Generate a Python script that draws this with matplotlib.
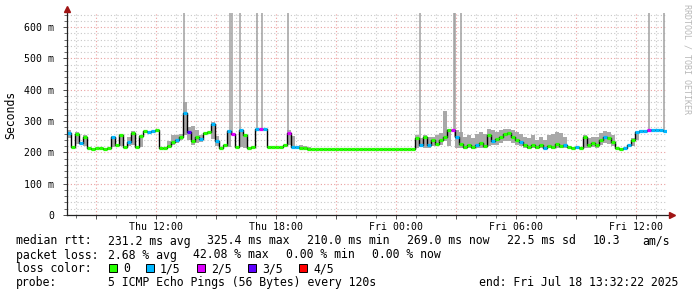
import matplotlib
matplotlib.use('Agg')
import matplotlib.pyplot as plt
from matplotlib.lines import Line2D
from matplotlib.patches import Rectangle
from matplotlib.ticker import MultipleLocator
import numpy as np

# time axis: hours since Thu 00:00, one sample every 12 min
t_start = 7.5394   # Thu 07:32:22
t_step = 0.2
t_span = 30.0

median_ms = [262, 218, 258, 230, 250, 214, 212, 215, 214, 212,
             213, 248, 222, 255, 216, 232, 262, 218, 252, 268,
             266, 267, 270, 214, 213, 220, 232, 240, 250, 325,
             265, 235, 250, 242, 262, 264, 292, 236, 215, 222,
             268, 260, 216, 273, 255, 215, 216, 274, 274, 274,
             218, 217, 216, 218, 225, 263, 218, 216, 214, 213,
             212, 211, 211, 211, 211, 211, 211, 211, 211, 211,
             211, 210, 210, 210, 210, 210, 210, 210, 210, 210,
             210, 210, 210, 210, 210, 210, 210, 245, 222, 250,
             225, 240, 228, 240, 250, 271, 273, 250, 228, 218,
             222, 216, 223, 230, 220, 255, 235, 242, 250, 258,
             262, 250, 240, 232, 222, 218, 225, 216, 222, 215,
             220, 218, 228, 220, 225, 216, 215, 217, 214, 250,
             222, 230, 225, 238, 250, 245, 232, 213, 212, 214,
             222, 240, 266, 268, 269, 270, 271, 272, 272, 269]

# lost pings out of 5
loss = [1, 0, 0, 1, 0, 0, 0, 0, 0, 0,
        0, 1, 0, 0, 0, 1, 0, 0, 0, 0,
        1, 1, 0, 0, 0, 0, 0, 1, 0, 1,
        3, 0, 0, 1, 0, 0, 1, 1, 0, 0,
        1, 2, 0, 1, 0, 0, 0, 1, 2, 1,
        0, 0, 0, 0, 0, 2, 1, 1, 0, 0,
        0, 0, 0, 0, 0, 0, 0, 0, 0, 0,
        0, 0, 0, 0, 0, 0, 0, 0, 0, 0,
        0, 0, 0, 0, 0, 0, 0, 0, 1, 0,
        1, 0, 0, 0, 0, 0, 2, 1, 0, 0,
        0, 0, 1, 0, 0, 0, 1, 0, 0, 0,
        0, 0, 0, 1, 0, 0, 0, 0, 0, 1,
        0, 0, 0, 0, 1, 0, 0, 1, 0, 0,
        0, 0, 0, 0, 1, 0, 0, 0, 0, 1,
        1, 0, 1, 1, 1, 2, 1, 1, 1, 1]

# smoke: spread of the individual pings above / below the median (ms)
smoke_up = [10, 0, 8, 0, 5, 0, 0, 0, 0, 0,
            0, 5, 0, 5, 0, 18, 5, 0, 5, 0,
            0, 0, 0, 0, 0, 15, 25, 15, 10, 37,
            15, 50, 20, 15, 0, 0, 5, 15, 0, 0,
            5, 0, 0, 3, 5, 0, 0, 0, 0, 0,
            0, 0, 0, 0, 0, 8, 35, 0, 8, 7,
            5, 0, 0, 0, 0, 0, 0, 0, 0, 0,
            0, 0, 0, 0, 0, 0, 0, 0, 0, 0,
            0, 0, 0, 0, 0, 0, 0, 10, 25, 5,
            25, 10, 27, 22, 82, 5, 0, 20, 37, 32,
            33, 29, 37, 35, 38, 20, 35, 23, 22, 17,
            13, 20, 25, 28, 28, 27, 30, 24, 28, 25,
            35, 42, 37, 42, 25, 0, 0, 0, 0, 5,
            23, 20, 23, 24, 18, 20, 23, 0, 0, 0,
            0, 5, 3, 3, 3, 3, 3, 3, 3, 3]
smoke_dn = [15, 0, 30, 0, 30, 0, 0, 0, 0, 0,
            0, 30, 0, 35, 0, 12, 40, 0, 35, 0,
            0, 0, 0, 0, 0, 5, 8, 10, 12, 70,
            25, 10, 20, 10, 0, 0, 50, 15, 0, 0,
            50, 0, 0, 55, 40, 0, 0, 0, 0, 0,
            0, 0, 0, 0, 0, 40, 3, 0, 2, 0,
            0, 0, 0, 0, 0, 0, 0, 0, 0, 0,
            0, 0, 0, 0, 0, 0, 0, 0, 0, 0,
            0, 0, 0, 0, 0, 0, 0, 30, 5, 35,
            10, 20, 8, 15, 15, 50, 0, 35, 13, 6,
            9, 4, 8, 15, 7, 35, 13, 17, 20, 23,
            27, 20, 18, 12, 9, 6, 10, 4, 9, 3,
            7, 6, 13, 7, 10, 0, 0, 0, 0, 36,
            7, 12, 10, 16, 20, 17, 12, 0, 0, 0,
            0, 20, 25, 5, 5, 5, 5, 5, 5, 5]

# pings far above the chart top (hours since Thu 00:00)
spike_hours = [13.405, 15.705, 15.775, 16.19, 17.025, 17.265, 18.605,
               25.19, 26.90, 26.94, 27.24, 36.655, 37.405]

loss_colors = ['#26ff00', '#00b8ff', '#dd00ff', '#5e00ff', '#ff0000']
loss_labels = ['0', '1/5', '2/5', '3/5', '4/5']

xtick_hours = [12, 18, 24, 30, 36]
xtick_labels = ['Thu 12:00', 'Thu 18:00', 'Fri 00:00', 'Fri 06:00', 'Fri 12:00']
ytick_ms = [0, 100, 200, 300, 400, 500, 600]
ytick_labels = ['0', '100 m', '200 m', '300 m', '400 m', '500 m', '600 m']

rtt_stats = ['median rtt:', '231.2 ms avg', '325.4 ms max', '210.0 ms min',
             '269.0 ms now', '22.5 ms sd', '10.3', 'am/s']
loss_stats = ['packet loss:', '2.68 % avg', '42.08 % max', '0.00 % min', '0.00 % now']
probe_text = '5 ICMP Echo Pings (56 Bytes) every 120s'
end_text = 'end: Fri Jul 18 13:32:22 2025'

W, H = 697, 297
mono = 'DejaVu Sans Mono'
plt.rcParams['font.family'] = mono

fig = plt.figure(figsize=(W / 100, H / 100), dpi=100)
fig.patch.set_facecolor('white')
ax = fig.add_axes([67 / W, (H - 215) / H, 600 / W, 202 / H])

med = np.array(median_ms, dtype=float)
n = len(med)
t = t_start + t_step * np.arange(n)
t_edges = np.append(t, t[-1] + t_step)
hi = med + np.array(smoke_up)
lo = med - np.array(smoke_dn)

# smoke
ax.fill_between(t_edges, np.append(lo, lo[-1]), np.append(hi, hi[-1]),
                step='post', color='#a8a8a8', lw=0, zorder=2)
for h in spike_hours:
    k = min(int((h - t_start) / t_step), n - 1)
    ax.vlines(h, med[k], 700, color='#a0a0a0', lw=1.1, zorder=2)

# median: black connectors, coloured by loss
ax.step(t_edges, np.append(med, med[-1]), where='post', color='#000000', lw=1.0, zorder=3)
ax.hlines(med, t, t + t_step, colors=[loss_colors[l] for l in loss], lw=2.3, zorder=4)

ax.set_xlim(t_start, t_start + t_span)
ax.set_ylim(0, 645)

major_x = list(range(9, 37, 3))
ax.set_xticks(major_x)
ax.set_xticklabels([xtick_labels[xtick_hours.index(h)] if h in xtick_hours else '' for h in major_x])
ax.xaxis.set_minor_locator(MultipleLocator(1))
ax.set_yticks(ytick_ms)
ax.set_yticklabels(ytick_labels)
ax.yaxis.set_minor_locator(MultipleLocator(20))

ax.grid(True, which='minor', color='#c8c8c8', lw=0.8, ls=(0, (1, 2)), zorder=1)
ax.grid(True, which='major', color='#eaa0a0', lw=0.8, ls=(0, (1, 2)), zorder=1)
ax.tick_params(which='both', direction='out', colors='#333333', labelsize=7.1, labelcolor='black')
ax.tick_params(which='major', length=3, width=0.6, pad=2)
ax.tick_params(which='minor', length=2, width=0.5)
ax.tick_params(axis='y', pad=6)

for s in ax.spines.values():
    s.set_visible(False)

def fx(x):
    return x / W

def fy(y):
    return 1 - y / H

# axis lines with arrows
fig.add_artist(Line2D([fx(67), fx(671)], [fy(215), fy(215)], color='#222222', lw=0.9))
fig.add_artist(Line2D([fx(67), fx(67)], [fy(215), fy(10)], color='#222222', lw=0.9))
fig.add_artist(Line2D([fx(672)], [fy(215)], marker='>', ms=4, color='#a01414', mec='#a01414'))
fig.add_artist(Line2D([fx(67)], [fy(9)], marker='^', ms=4, color='#a01414', mec='#a01414'))

fig.text(fx(11), fy(115), 'Seconds', rotation=90, ha='center', va='center', fontsize=8.3)
fig.text(fx(687), fy(4), 'RRDTOOL / TOBI OETIKER', rotation=270, ha='center', va='top',
         fontsize=6.0, color='#b8b8b8')

# legend block
fs = 8.3
rtt_x = [16, 107.5, 207, 307, 407, 507, 593, 642]
for x, s in zip(rtt_x, rtt_stats):
    fig.text(fx(x), fy(241), s, ha='left', va='center', fontsize=fs)
loss_x = [16, 107.5, 193, 286, 371.5]
for x, s in zip(loss_x, loss_stats):
    fig.text(fx(x), fy(255), s, ha='left', va='center', fontsize=fs)
fig.text(fx(16), fy(268.5), 'loss color:', ha='left', va='center', fontsize=fs)
box_x = [109, 146, 197, 248, 299]
for x, c, s in zip(box_x, loss_colors, loss_labels):
    fig.add_artist(Rectangle((fx(x), fy(272)), 8 / W, 8 / H, facecolor=c,
                             edgecolor='black', lw=0.7))
    fig.text(fx(x + 14), fy(268.5), s, ha='left', va='center', fontsize=fs)
fig.text(fx(16), fy(282.5), 'probe:', ha='left', va='center', fontsize=fs)
fig.text(fx(107.5), fy(282.5), probe_text, ha='left', va='center', fontsize=fs)
fig.text(fx(479), fy(282.5), end_text, ha='left', va='center', fontsize=fs)

fig.savefig('out.png', dpi=100)
